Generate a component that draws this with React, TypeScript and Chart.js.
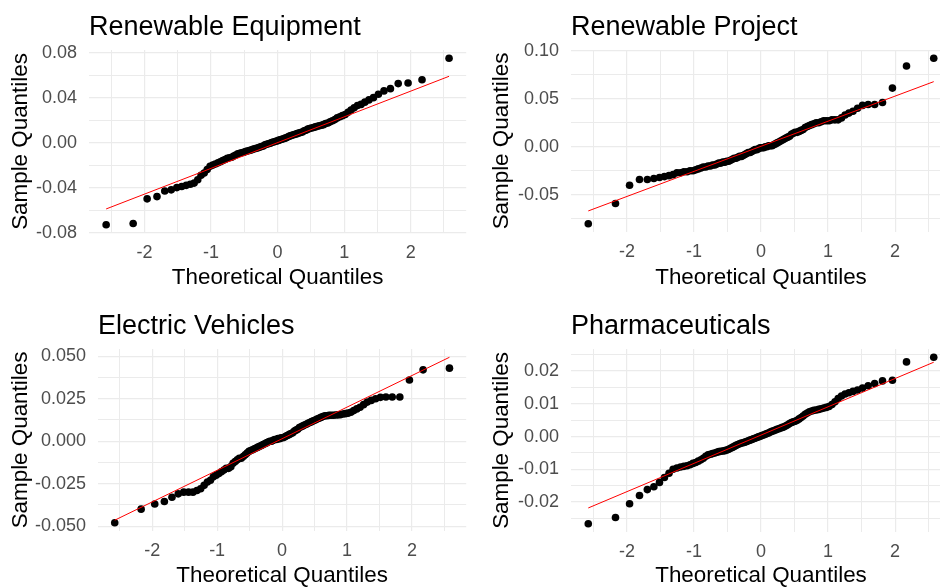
import React, { useEffect, useRef } from "react";
import { Chart, registerables } from "chart.js";

Chart.register(...registerables);

const FONT = "'Liberation Sans', Arial, Helvetica, sans-serif";

// Theoretical normal quantiles (n = 100)
const theoreticalQuantiles = [
  -2.576, -2.170, -1.960, -1.812, -1.695, -1.598, -1.514, -1.440, -1.372, -1.311,
  -1.254, -1.200, -1.150, -1.103, -1.058, -1.015, -0.974, -0.935, -0.896, -0.860,
  -0.824, -0.789, -0.755, -0.722, -0.690, -0.659, -0.628, -0.598, -0.568, -0.539,
  -0.510, -0.482, -0.454, -0.426, -0.399, -0.372, -0.345, -0.319, -0.292, -0.266,
  -0.240, -0.215, -0.189, -0.164, -0.138, -0.113, -0.088, -0.063, -0.038, -0.013,
  0.013, 0.038, 0.063, 0.088, 0.113, 0.138, 0.164, 0.189, 0.215, 0.240,
  0.266, 0.292, 0.319, 0.345, 0.372, 0.399, 0.426, 0.454, 0.482, 0.510,
  0.539, 0.568, 0.598, 0.628, 0.659, 0.690, 0.722, 0.755, 0.789, 0.824,
  0.860, 0.896, 0.935, 0.974, 1.015, 1.058, 1.103, 1.150, 1.200, 1.254,
  1.311, 1.372, 1.440, 1.514, 1.598, 1.695, 1.812, 1.960, 2.170, 2.576,
];

const panelTitles = ["Renewable Equipment", "Renewable Project", "Electric Vehicles", "Pharmaceuticals"];
const xAxisTitle = "Theoretical Quantiles";
const yAxisTitle = "Sample Quantiles";

// Sample quantiles (sorted)
const renewableEquipmentSample = [
  -0.073, -0.072, -0.050, -0.048, -0.043, -0.042, -0.040, -0.039, -0.038, -0.037,
  -0.036, -0.033, -0.029, -0.027, -0.024, -0.021, -0.020, -0.019, -0.018, -0.017,
  -0.016, -0.015, -0.014, -0.0135, -0.013, -0.012, -0.011, -0.010, -0.0095, -0.009,
  -0.0085, -0.008, -0.0075, -0.007, -0.0065, -0.006, -0.0055, -0.005, -0.0045, -0.004,
  -0.0035, -0.003, -0.002, -0.0015, -0.001, -0.0005, 0.000, 0.0005, 0.001, 0.0015,
  0.002, 0.0025, 0.003, 0.0035, 0.004, 0.0045, 0.0055, 0.006, 0.0065, 0.007,
  0.0075, 0.008, 0.0085, 0.009, 0.0095, 0.0105, 0.011, 0.012, 0.0125, 0.013,
  0.0135, 0.014, 0.0145, 0.015, 0.0155, 0.016, 0.017, 0.0175, 0.0185, 0.0195,
  0.0205, 0.022, 0.023, 0.024, 0.025, 0.027, 0.029, 0.031, 0.033, 0.034,
  0.036, 0.038, 0.040, 0.043, 0.046, 0.048, 0.0525, 0.053, 0.056, 0.075,
];
const renewableProjectSample = [
  -0.080, -0.059, -0.040, -0.034, -0.034, -0.033, -0.032, -0.031, -0.030, -0.029,
  -0.027, -0.027, -0.026, -0.026, -0.025, -0.025, -0.024, -0.023, -0.022, -0.021,
  -0.021, -0.020, -0.020, -0.019, -0.019, -0.018, -0.017, -0.017, -0.016, -0.016,
  -0.015, -0.015, -0.014, -0.013, -0.012, -0.012, -0.011, -0.010, -0.010, -0.009,
  -0.008, -0.007, -0.006, -0.006, -0.005, -0.004, -0.003, -0.003, -0.002, -0.001,
  -0.001, -0.001, 0.000, 0.000, 0.001, 0.001, 0.001, 0.002, 0.003, 0.004,
  0.005, 0.006, 0.007, 0.008, 0.009, 0.010, 0.011, 0.013, 0.014, 0.015,
  0.015, 0.016, 0.017, 0.018, 0.020, 0.021, 0.022, 0.023, 0.024, 0.025,
  0.025, 0.026, 0.027, 0.027, 0.027, 0.028, 0.028, 0.028, 0.030, 0.033,
  0.035, 0.037, 0.040, 0.043, 0.044, 0.044, 0.046, 0.061, 0.084, 0.092,
];
const electricVehiclesSample = [
  -0.048, -0.040, -0.037, -0.0355, -0.033, -0.031, -0.030, -0.030, -0.030, -0.029,
  -0.028, -0.026, -0.024, -0.023, -0.021, -0.020, -0.019, -0.018, -0.017, -0.016,
  -0.016, -0.015, -0.013, -0.012, -0.011, -0.010, -0.010, -0.009, -0.008, -0.007,
  -0.006, -0.0055, -0.005, -0.0045, -0.004, -0.0035, -0.003, -0.0025, -0.002, -0.0015,
  -0.001, -0.0005, 0.000, 0.000, 0.0005, 0.001, 0.001, 0.0015, 0.0015, 0.002,
  0.002, 0.0025, 0.003, 0.0035, 0.004, 0.0045, 0.005, 0.006, 0.0065, 0.007,
  0.008, 0.0085, 0.009, 0.0095, 0.010, 0.0105, 0.011, 0.0115, 0.012, 0.0125,
  0.013, 0.0135, 0.014, 0.0145, 0.015, 0.015, 0.0152, 0.0153, 0.0153, 0.0154,
  0.0155, 0.0156, 0.016, 0.0162, 0.0165, 0.017, 0.018, 0.019, 0.020, 0.0215,
  0.023, 0.024, 0.025, 0.0258, 0.026, 0.026, 0.026, 0.036, 0.042, 0.043,
];
const pharmaceuticalsSample = [
  -0.0266, -0.0247, -0.0205, -0.0180, -0.0162, -0.0153, -0.0140, -0.0125, -0.0112, -0.0100,
  -0.0096, -0.0093, -0.0091, -0.0089, -0.0086, -0.0082, -0.0079, -0.0075, -0.0071, -0.0066,
  -0.0060, -0.0056, -0.0054, -0.0052, -0.0050, -0.0048, -0.0046, -0.0045, -0.0044, -0.0043,
  -0.0041, -0.0039, -0.0036, -0.0033, -0.0030, -0.0027, -0.0024, -0.0022, -0.0020, -0.0019,
  -0.0017, -0.0015, -0.0013, -0.0011, -0.0009, -0.0007, -0.0005, -0.0003, -0.0001, 0.0001,
  0.0003, 0.0005, 0.0007, 0.0009, 0.0011, 0.0014, 0.0016, 0.0018, 0.0020, 0.0022,
  0.0024, 0.0026, 0.0028, 0.0030, 0.0033, 0.0036, 0.0040, 0.0043, 0.0045, 0.0047,
  0.0050, 0.0054, 0.0058, 0.0063, 0.0068, 0.0072, 0.0076, 0.0078, 0.0080, 0.0081,
  0.0083, 0.0085, 0.0087, 0.0089, 0.0092, 0.0098, 0.0106, 0.0116, 0.0124, 0.0130,
  0.0134, 0.0138, 0.0142, 0.0148, 0.0155, 0.0162, 0.0170, 0.0172, 0.0228, 0.0242,
];

// Reference (qq) line end points
const qqLineX = [-2.576, 2.576];
const renewableEquipmentLine = [-0.059, 0.059];
const renewableProjectLine = [-0.0667, 0.0677];
const electricVehiclesLine = [-0.0465, 0.0494];
const pharmaceuticalsLine = [-0.0218, 0.0227];

// Tick values
const xMajorTicks = [-2, -1, 0, 1, 2];
const xMinorTicks = [-2.5, -1.5, -0.5, 0.5, 1.5, 2.5];
const renewableEquipmentYMajor = [-0.08, -0.04, 0, 0.04, 0.08];
const renewableEquipmentYMinor = [-0.06, -0.02, 0.02, 0.06];
const renewableProjectYMajor = [-0.05, 0, 0.05, 0.1];
const renewableProjectYMinor = [-0.075, -0.025, 0.025, 0.075];
const electricVehiclesYMajor = [-0.05, -0.025, 0, 0.025, 0.05];
const electricVehiclesYMinor = [-0.0375, -0.0125, 0.0125, 0.0375];
const pharmaceuticalsYMajor = [-0.02, -0.01, 0, 0.01, 0.02];
const pharmaceuticalsYMinor = [-0.025, -0.015, -0.005, 0.005, 0.015, 0.025];

type Box = {
  left: number; top: number; width: number; height: number;
  plotLeft: number; plotRight: number; plotTop: number; plotBottom: number;
  yTitleX: number; xTitleY: number;
};

type Spec = {
  title: string;
  sample: number[];
  line: number[];
  yMajor: number[];
  yMinor: number[];
  decimals: number;
  box: Box;
};

const panels: Spec[] = [
  {
    title: panelTitles[0], sample: renewableEquipmentSample, line: renewableEquipmentLine,
    yMajor: renewableEquipmentYMajor, yMinor: renewableEquipmentYMinor, decimals: 2,
    box: { left: 0, top: 0, width: 470, height: 294, plotLeft: 89, plotRight: 468, plotTop: 50, plotBottom: 233, yTitleX: 20, xTitleY: 276.5 },
  },
  {
    title: panelTitles[1], sample: renewableProjectSample, line: renewableProjectLine,
    yMajor: renewableProjectYMajor, yMinor: renewableProjectYMinor, decimals: 2,
    box: { left: 470, top: 0, width: 490, height: 294, plotLeft: 101, plotRight: 481, plotTop: 50, plotBottom: 232, yTitleX: 31, xTitleY: 276.5 },
  },
  {
    title: panelTitles[2], sample: electricVehiclesSample, line: electricVehiclesLine,
    yMajor: electricVehiclesYMajor, yMinor: electricVehiclesYMinor, decimals: 3,
    box: { left: 0, top: 294, width: 470, height: 300, plotLeft: 98, plotRight: 470, plotTop: 55, plotBottom: 237, yTitleX: 20, xTitleY: 281 },
  },
  {
    title: panelTitles[3], sample: pharmaceuticalsSample, line: pharmaceuticalsLine,
    yMajor: pharmaceuticalsYMajor, yMinor: pharmaceuticalsYMinor, decimals: 2,
    box: { left: 470, top: 294, width: 490, height: 300, plotLeft: 101, plotRight: 481, plotTop: 55, plotBottom: 238, yTitleX: 31, xTitleY: 281 },
  },
];

const near = (v: number, list: number[]) => list.some((m) => Math.abs(m - v) < 1e-9);

function QQPanel({ spec }: { spec: Spec }) {
  const ref = useRef<HTMLCanvasElement>(null);
  const b = spec.box;

  useEffect(() => {
    const canvas = ref.current;
    if (!canvas) return;

    const ys = [...spec.sample, ...spec.line];
    const yLo = Math.min(...ys);
    const yHi = Math.max(...ys);
    const yExp = (yHi - yLo) * 0.05;
    const xs = [...theoreticalQuantiles, ...qqLineX];
    const xLo = Math.min(...xs);
    const xHi = Math.max(...xs);
    const xExp = (xHi - xLo) * 0.05;

    const xTicks = [...xMajorTicks, ...xMinorTicks].sort((a, c) => a - c);
    const yTicks = [...spec.yMajor, ...spec.yMinor].sort((a, c) => a - c);

    const titleSize = 27;
    const axisTitleSize = 22.4;
    const tickSize = 18;
    const titleLH = titleSize * 1.2;
    const axisLH = axisTitleSize * 1.2;

    const titlePadTop = b.plotTop - 38.9;
    const titlePadBottom = b.plotTop - titlePadTop - titleLH;
    const yTitlePad = b.yTitleX + 1.1 - axisLH / 2;
    const xTitlePad = b.height - axisLH / 2 - (b.xTitleY + 1.1);

    const gridWidth = (majors: number[]) => (ctx: any) =>
      ctx.tick && near(ctx.tick.value, majors) ? 1.2 : 1.0;

    const chart = new Chart(canvas, {
      type: "scatter",
      data: {
        datasets: [
          {
            type: "line",
            data: qqLineX.map((x, i) => ({ x, y: spec.line[i] })),
            borderColor: "#FF0000",
            borderWidth: 1,
            pointRadius: 0,
            fill: false,
            tension: 0,
          } as any,
          {
            type: "scatter",
            data: theoreticalQuantiles.map((x, i) => ({ x, y: spec.sample[i] })),
            backgroundColor: "#000000",
            borderWidth: 0,
            pointRadius: 3.8,
            pointHoverRadius: 3.8,
          },
        ],
      },
      options: {
        animation: false,
        responsive: false,
        maintainAspectRatio: false,
        devicePixelRatio: 1,
        events: [],
        layout: {
          padding: { top: 0, left: 0, bottom: 0, right: b.width - b.plotRight },
        },
        plugins: {
          legend: { display: false },
          tooltip: { enabled: false },
          title: {
            display: true,
            text: spec.title,
            align: "start",
            fullSize: false,
            color: "#000000",
            font: { family: FONT, size: titleSize, weight: "normal", lineHeight: 1.2 },
            padding: { top: titlePadTop, bottom: titlePadBottom },
          },
        },
        scales: {
          x: {
            type: "linear",
            position: "bottom",
            min: xLo - xExp,
            max: xHi + xExp,
            afterFit: (s: any) => {
              s.height = b.height - b.plotBottom;
            },
            afterBuildTicks: (s: any) => {
              s.ticks = xTicks.map((v) => ({ value: v }));
            },
            grid: { color: "#EBEBEB", lineWidth: gridWidth(xMajorTicks), drawTicks: false },
            border: { display: false },
            ticks: {
              autoSkip: false,
              maxRotation: 0,
              padding: 9.6,
              color: "#4D4D4D",
              font: { family: FONT, size: tickSize },
              callback: (v: any) => (near(Number(v), xMajorTicks) ? String(Math.round(Number(v))) : ""),
            },
            title: {
              display: true,
              text: xAxisTitle,
              color: "#000000",
              font: { family: FONT, size: axisTitleSize, lineHeight: 1.2 },
              padding: { top: 0, bottom: xTitlePad },
            },
          },
          y: {
            type: "linear",
            position: "left",
            min: yLo - yExp,
            max: yHi + yExp,
            afterFit: (s: any) => {
              s.width = b.plotLeft;
            },
            afterBuildTicks: (s: any) => {
              s.ticks = yTicks.map((v) => ({ value: v }));
            },
            grid: { color: "#EBEBEB", lineWidth: gridWidth(spec.yMajor), drawTicks: false },
            border: { display: false },
            ticks: {
              autoSkip: false,
              padding: 12,
              color: "#4D4D4D",
              font: { family: FONT, size: tickSize },
              callback: (v: any) => (near(Number(v), spec.yMajor) ? Number(v).toFixed(spec.decimals) : ""),
            },
            title: {
              display: true,
              text: yAxisTitle,
              color: "#000000",
              font: { family: FONT, size: axisTitleSize, lineHeight: 1.2 },
              padding: { top: yTitlePad, bottom: 0 },
            },
          },
        },
      } as any,
    });

    return () => chart.destroy();
  }, []);

  return (
    <canvas
      ref={ref}
      width={b.width}
      height={b.height}
      style={{ position: "absolute", left: b.left, top: b.top, width: b.width, height: b.height }}
    />
  );
}

export default function App() {
  return (
    <div
      style={{
        position: "absolute",
        left: 0,
        top: 0,
        width: 940,
        height: 588,
        overflow: "hidden",
        background: "#ffffff",
      }}
    >
      {panels.map((p) => (
        <QQPanel key={p.title} spec={p} />
      ))}
    </div>
  );
}
